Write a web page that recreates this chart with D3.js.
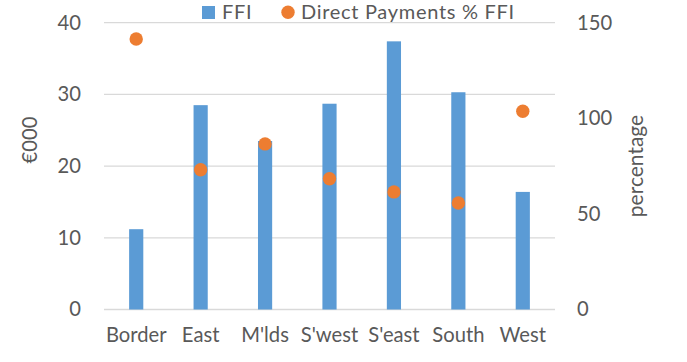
<!DOCTYPE html>
<html>
<head>
<meta charset="utf-8">
<script src="https://cdn.jsdelivr.net/npm/d3@7"></script>
<style>
  body { margin: 0; background: #fff; }
  text { font-family: Lato, "Open Sans", sans-serif; fill: #595959; }
</style>
</head>
<body>
<svg id="chart"></svg>
<script>
// regions and values
var regions = ["Border", "East", "M'lds", "S'west", "S'east", "South", "West"];
var ffi = [11.2, 28.5, 23.5, 28.7, 37.4, 30.3, 16.4];          // €000
var directPct = [141.5, 73.1, 86.6, 68.4, 61.5, 55.7, 103.7];  // percentage
var leftTicks = [0, 10, 20, 30, 40];
var rightTicks = [0, 50, 100, 150];

var width = 687, height = 362;
var margin = {top: 22.7, right: 132, bottom: 52.5, left: 104};
var barColor = "#5b9bd5", dotColor = "#ed7d31", gridColor = "#d9d9d9";

var svg = d3.select("#chart").attr("width", width).attr("height", height);

var x = d3.scaleBand().domain(regions).range([margin.left, width - margin.right]).padding(0);
var yL = d3.scaleLinear().domain([0, 40]).range([height - margin.bottom, margin.top]);
var yR = d3.scaleLinear().domain([0, 150]).range([height - margin.bottom, margin.top]);
var barW = x.bandwidth() * 0.22;

/* gridlines */
svg.append("g").selectAll("line").data(leftTicks).enter().append("line")
  .attr("x1", margin.left).attr("x2", width - margin.right)
  .attr("y1", function(d) { return yL(d); }).attr("y2", function(d) { return yL(d); })
  .attr("stroke", gridColor).attr("stroke-width", 1.3);

/* bars */
svg.append("g").selectAll("rect").data(ffi).enter().append("rect")
  .attr("x", function(d, i) { return x(regions[i]) + x.bandwidth() / 2 - barW / 2; })
  .attr("y", function(d) { return yL(d); })
  .attr("width", barW)
  .attr("height", function(d) { return yL(0) - yL(d); })
  .attr("fill", barColor);

/* dots */
svg.append("g").selectAll("circle").data(directPct).enter().append("circle")
  .attr("cx", function(d, i) { return x(regions[i]) + x.bandwidth() / 2; })
  .attr("cy", function(d) { return yR(d); })
  .attr("r", 6.7)
  .attr("fill", dotColor);

/* axes - text only, no domain/ticks */
var fs = 20.2;
var axL = svg.append("g").attr("transform", "translate(" + 81 + ",0)")
  .call(d3.axisLeft(yL).tickValues(leftTicks).tickSize(0).tickPadding(0));
var axR = svg.append("g").attr("transform", "translate(" + 577 + ",0)")
  .call(d3.axisRight(yR).tickValues(rightTicks).tickSize(0).tickPadding(0));
var axB = svg.append("g").attr("transform", "translate(0," + 324 + ")")
  .call(d3.axisBottom(x).tickSize(0).tickPadding(0));
[axL, axR, axB].forEach(function(a) {
  a.select(".domain").remove();
  a.selectAll("text").attr("font-size", fs).attr("font-family", null).style("fill", "#595959");
  a.attr("font-family", null).attr("font-size", null);
});
axB.selectAll("text").attr("dy", "0.9em");

/* axis titles */
svg.append("text").attr("transform", "translate(37,140) rotate(-90)")
  .attr("text-anchor", "middle").attr("font-size", fs).text("€000");
svg.append("text").attr("transform", "translate(643,166) rotate(-90)")
  .attr("text-anchor", "middle").attr("font-size", 21).text("percentage");

/* legend */
var legend = svg.append("g");
legend.append("rect").attr("x", 202).attr("y", 6).attr("width", 13).attr("height", 13).attr("fill", barColor);
legend.append("text").attr("x", 222).attr("y", 18.7).attr("font-size", 20).attr("letter-spacing", 0.7).text("FFI");
legend.append("circle").attr("cx", 288).attr("cy", 12.3).attr("r", 6.7).attr("fill", dotColor);
legend.append("text").attr("x", 301).attr("y", 18.7).attr("font-size", 20).attr("letter-spacing", 0.7).text("Direct Payments % FFI");
</script>
</body>
</html>
